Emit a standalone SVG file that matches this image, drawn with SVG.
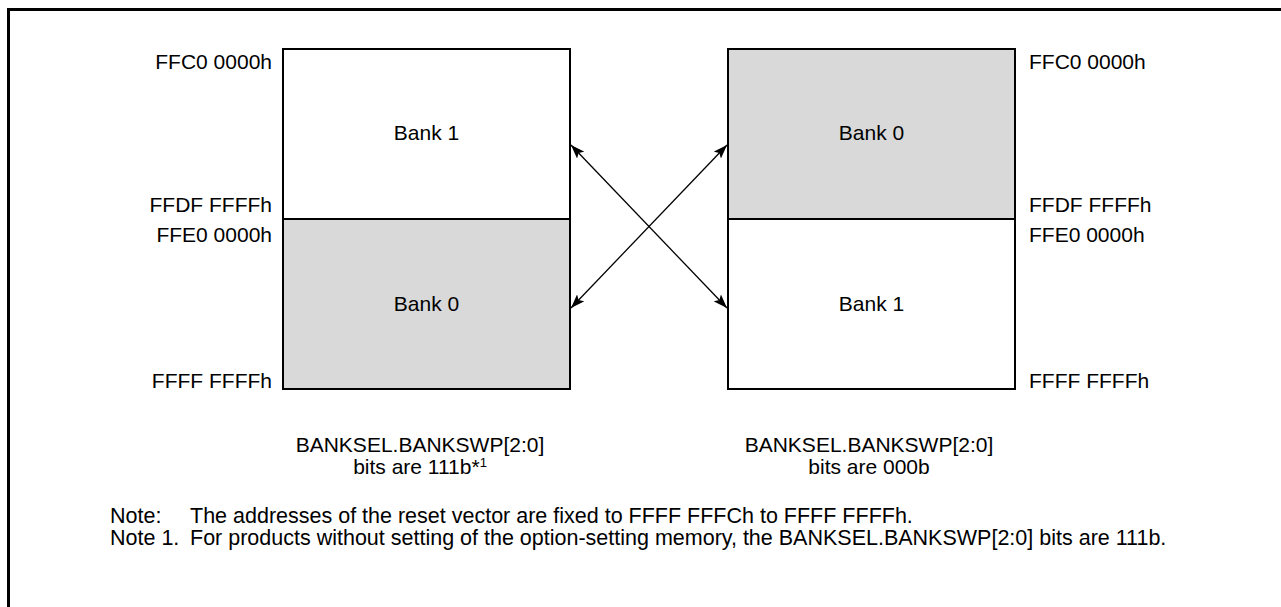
<svg xmlns="http://www.w3.org/2000/svg" width="1281" height="607" viewBox="0 0 1281 607">
<style>
text{font-family:"Liberation Sans",Arial,sans-serif;font-size:21px;fill:#000}
.note{font-size:21.5px}
.box{stroke:#000;stroke-width:2}
.w{fill:#fff}
.g{fill:#d9d9d9}
.e{text-anchor:end}
.m{text-anchor:middle}
.con{stroke:#000;stroke-width:1.3;fill:none;marker-start:url(#ah);marker-end:url(#ah)}
</style>
<defs>
<marker id="ah" viewBox="0 0 14 10" refX="14" refY="5" markerWidth="14" markerHeight="10" markerUnits="userSpaceOnUse" orient="auto-start-reverse">
<path d="M0,0 L14,5 L0,10 L3,5 Z" fill="#000"/>
</marker>
</defs>
<rect width="1281" height="607" fill="#fff"/>
<path d="M8.5,607 V9.5 H1281" fill="none" stroke="#000" stroke-width="3"/>
<g id="left-map">
<rect class="box w" x="283" y="49" width="287" height="170"/>
<rect class="box g" x="283" y="219" width="287" height="170"/>
<text class="m" x="426.5" y="140">Bank 1</text>
<text class="m" x="426.5" y="311">Bank 0</text>
<text class="e" x="272" y="69">FFC0 0000h</text>
<text class="e" x="272" y="212">FFDF FFFFh</text>
<text class="e" x="272" y="242">FFE0 0000h</text>
<text class="e" x="272" y="388">FFFF FFFFh</text>
<text class="m" x="420" y="452">BANKSEL.BANKSWP[2:0]</text>
<text class="m" x="420" y="474">bits are 111b*<tspan font-size="13" dy="-7">1</tspan></text>
</g>
<g id="right-map">
<rect class="box g" x="728" y="49" width="287" height="170"/>
<rect class="box w" x="728" y="219" width="287" height="170"/>
<text class="m" x="871.5" y="140">Bank 0</text>
<text class="m" x="871.5" y="311">Bank 1</text>
<text x="1029" y="69">FFC0 0000h</text>
<text x="1029" y="212">FFDF FFFFh</text>
<text x="1029" y="242">FFE0 0000h</text>
<text x="1029" y="388">FFFF FFFFh</text>
<text class="m" x="869" y="452">BANKSEL.BANKSWP[2:0]</text>
<text class="m" x="869" y="474">bits are 000b</text>
</g>
<g id="connectors">
<line class="con" x1="571" y1="145" x2="727" y2="308"/>
<line class="con" x1="571" y1="308" x2="727" y2="145"/>
</g>
<g id="notes">
<text class="note" x="110" y="523">Note:</text>
<text class="note" x="190" y="523">The addresses of the reset vector are fixed to FFFF FFFCh to FFFF FFFFh.</text>
<text class="note" x="110" y="545">Note 1.</text>
<text class="note" x="190" y="545">For products without setting of the option-setting memory, the BANKSEL.BANKSWP[2:0] bits are 111b.</text>
</g>
</svg>
